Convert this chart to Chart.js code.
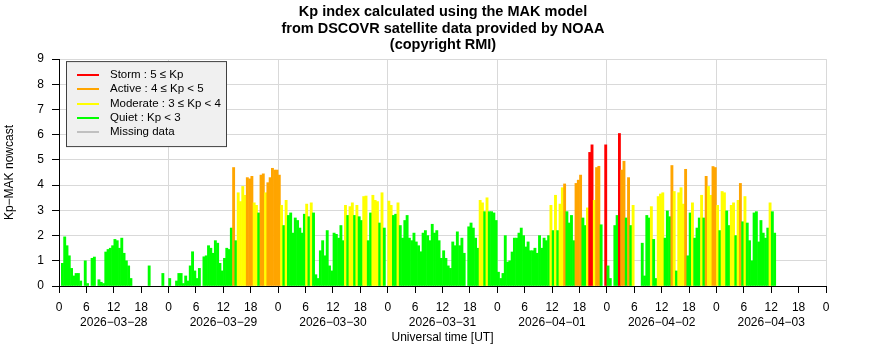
<!DOCTYPE html>
<html>
<head>
<meta charset="utf-8">
<script src="https://cdn.jsdelivr.net/npm/chart.js@4/dist/chart.umd.min.js"></script>
<style>
  html, body { margin: 0; padding: 0; background: #fff; }
</style>
</head>
<body>
<canvas id="kpCanvas" width="886" height="360"></canvas>
<script>
// Days shown on the x axis (one label under the 12 UT tick of each day)
const days = ["2026-03-28", "2026-03-29", "2026-03-30", "2026-03-31", "2026-04-01", "2026-04-02", "2026-04-03"];
const hourTicks = [0, 6, 12, 18];
const stepHours = 0.5; // one value every 30 minutes, starting 2026-03-28 00 UT

// Kp-MAK nowcast, 48 values per day
const kp_0328 = [0, 0.9, 1.95, 1.6, 1.2, 0.7, 0.4, 0.5, 0.5, 0.2, 0, 1.0, 0.1, 0, 1.1, 1.15, 0, 0.25, 0.15, 0.1,
  1.35, 1.45, 1.5, 1.6, 1.85, 1.8, 1.5, 1.9, 1.3, 1.0, 0.8, 0.3, 0, 0, 0, 0, 0, 0, 0, 0.8, 0, 0, 0, 0, 0, 0.5, 0, 0];
const kp_0329 = [0.3, 0, 0, 0.2, 0.5, 0.5, 0.1, 0.4, 0.2, 0.8, 1.36, 0.6, 0.3, 0.7, 0, 1.16, 1.2, 1.6, 1.5, 1.3,
  1.8, 1.7, 0.9, 0.6, 1.1, 1.5, 1.45, 2.3, 4.7, 1.8, 3.7, 3.35, 3.95, 3.6, 4.3, 4.25, 4.35, 3.3, 3.2, 2.9,
  4.4, 4.45, 3.7, 4.1, 4.3, 4.67, 4.6, 4.6];
const kp_0330 = [4.4, 3.2, 2.4, 3.4, 2.8, 2.9, 2.1, 2.7, 2.6, 2.3, 2.1, 2.85, 3.25, 2.75, 3.3, 2.9, 0.45, 0.3, 1.4, 1.8,
  1.2, 2.2, 0.8, 0.6, 2.1, 2.05, 1.9, 2.4, 1.8, 3.2, 2.8, 3.15, 3.3, 2.8, 3.2, 2.75, 2.6, 3.55, 3.57, 1.8,
  2.9, 3.6, 3.4, 3.35, 2.5, 3.7, 2.3, 0];
const kp_0331 = [3.37, 3.2, 2.8, 2.85, 3.3, 2.4, 1.9, 2.6, 2.8, 1.9, 1.8, 2.1, 1.75, 1.6, 1.36, 2.1, 2.2, 2.0, 1.8, 2.45,
  2.1, 2.2, 1.8, 1.1, 1.4, 1.1, 0.8, 0.7, 1.75, 1.6, 2.15, 1.6, 1.9, 1.3, 0, 2.35, 2.5, 2.3, 1.9, 1.5,
  3.4, 3.3, 2.95, 3.5, 2.95, 2.95, 2.9, 2.6];
const kp_0401 = [0.55, 0.3, 0.5, 2.0, 0.95, 1.0, 1.35, 1.9, 1.9, 2.1, 2.3, 2.0, 1.55, 1.75, 1.4, 1.4, 1.5, 1.3, 2.0, 1.5,
  1.9, 1.8, 2.0, 3.2, 2.2, 3.6, 2.2, 3.25, 3.9, 4.05, 2.95, 2.5, 2.8, 1.8, 4.07, 4.2, 4.4, 2.7, 2.4, 3.1,
  5.3, 5.6, 3.4, 4.7, 4.75, 2.43, 0, 5.6];
const kp_0402 = [0.8, 0.3, 0, 2.4, 2.8, 6.05, 4.6, 4.95, 2.7, 4.3, 2.4, 3.2, 0, 0, 0, 1.7, 0.4, 2.8, 2.7, 3.15,
  1.85, 0.3, 3.55, 3.65, 3.7, 1.9, 2.98, 2.75, 4.78, 3.75, 0.6, 3.7, 3.9, 3.25, 4.63, 1.2, 2.9, 3.3, 1.9, 2.3,
  2.7, 3.6, 2.7, 4.35, 3.95, 3.6, 4.74, 4.7];
const kp_0403 = [3.2, 2.2, 3.75, 3.7, 2.98, 2.4, 3.2, 3.3, 2.0, 3.4, 4.07, 2.55, 3.55, 2.5, 1.8, 1.0, 2.9, 2.95, 1.75, 2.6,
  2.1, 1.9, 2.3, 3.3, 2.95, 2.1];

// Activity levels: lower limits and legend texts
const levelLimits = [5, 4, 3];
const legendLabels = ["Storm : 5 \u2264 Kp", "Active : 4 \u2264 Kp < 5", "Moderate : 3 \u2264 Kp < 4", "Quiet : Kp < 3", "Missing data"];
const legendColors = ["#ff0000", "#ffa500", "#ffff00", "#00ff00", "#c0c0c0"];

const FONT = '"Liberation Sans", Arial, Helvetica, sans-serif';
const MINUS = "\u2212";
const gridGrey = "#d9d9d9";

const kpAll = [].concat(kp_0328, kp_0329, kp_0330, kp_0331, kp_0401, kp_0402, kp_0403);
const points = kpAll.map((v, i) => ({ x: i * stepHours + stepHours / 2, y: v > 0 ? v : null }));

function levelColor(v) {
  if (v >= levelLimits[0]) return legendColors[0];
  if (v >= levelLimits[1]) return legendColors[1];
  if (v >= levelLimits[2]) return legendColors[2];
  return legendColors[3];
}

// Legend box inside the plot, top left
const kpLegend = {
  id: "kpLegend",
  afterDraw(chart) {
    const { ctx, chartArea } = chart;
    const left = chartArea.left + 7, top = chartArea.top + 2;
    ctx.save();
    ctx.fillStyle = "#f0f0f0";
    ctx.fillRect(left, top, 161, 86);
    ctx.strokeStyle = "#404040";
    ctx.lineWidth = 1;
    ctx.strokeRect(left + 0.5, top + 0.5, 160, 85);
    ctx.font = "11.5px " + FONT;
    ctx.textBaseline = "middle";
    legendLabels.forEach((label, i) => {
      const y = Math.round(top + 14 + i * 14.25);
      ctx.strokeStyle = legendColors[i];
      ctx.lineWidth = 2;
      ctx.beginPath();
      ctx.moveTo(left + 11, y);
      ctx.lineTo(left + 33, y);
      ctx.stroke();
      ctx.fillStyle = "#000";
      ctx.fillText(label, left + 44, y);
    });
    ctx.restore();
  }
};

Chart.defaults.font.family = FONT;
Chart.defaults.color = "#000";

new Chart(document.getElementById("kpCanvas"), {
  type: "bar",
  data: {
    datasets: [{
      label: "Kp-MAK nowcast",
      data: points,
      backgroundColor: c => levelColor(c.parsed ? c.parsed.y : 0),
      borderWidth: 0,
      barPercentage: 1,
      categoryPercentage: 1,
      inflateAmount: 0.3
    }]
  },
  options: {
    responsive: false,
    animation: false,
    events: [],
    layout: { padding: 0 },
    plugins: {
      legend: { display: false },
      tooltip: { enabled: false },
      title: {
        display: true,
        text: ["Kp index calculated using the MAK model", "from DSCOVR satellite data provided by NOAA", "(copyright RMI)"],
        font: { size: 14.5, weight: "bold", lineHeight: 1.14 },
        color: "#000",
        padding: { top: 4, bottom: 5.5 }
      }
    },
    scales: {
      x: {
        type: "linear",
        min: 0,
        max: days.length * 24,
        offset: false,
        afterFit: s => { s.height = 74; },
        border: { color: "#000", width: 1, z: 1 },
        grid: {
          offset: false,
          color: c => (c.tick && c.tick.value % 24 === 0 ? gridGrey : "rgba(0,0,0,0)"),
          tickColor: "#000",
          tickLength: 7
        },
        ticks: {
          stepSize: 24 / hourTicks.length,
          autoSkip: false,
          maxRotation: 0,
          padding: 7,
          font: { size: 12, lineHeight: 1.25 },
          callback: v => {
            const h = v % 24;
            if (h === 12) return [String(h), days[Math.floor(v / 24)].replace(/-/g, MINUS)];
            return String(h);
          }
        },
        title: {
          display: true,
          text: "Universal time [UT]",
          font: { size: 12, lineHeight: 1.25 },
          padding: { top: 0, bottom: 15 }
        }
      },
      y: {
        min: 0,
        max: 9,
        afterFit: s => { s.width = 59; },
        border: { color: "#000", width: 1, z: 1 },
        grid: { color: gridGrey, tickColor: "#000", tickLength: 7 },
        ticks: { stepSize: 1, padding: 8, font: { size: 12 } },
        title: {
          display: true,
          text: "Kp" + MINUS + "MAK nowcast",
          font: { size: 12, lineHeight: 1.25 },
          padding: { top: 2, bottom: 0 }
        }
      },
      // empty right margin so the title stays centred on the whole figure
      yRight: {
        position: "right",
        afterFit: s => { s.width = 60; },
        border: { display: false },
        grid: { display: false },
        ticks: { display: false }
      }
    }
  },
  plugins: [kpLegend]
});
</script>
</body>
</html>
